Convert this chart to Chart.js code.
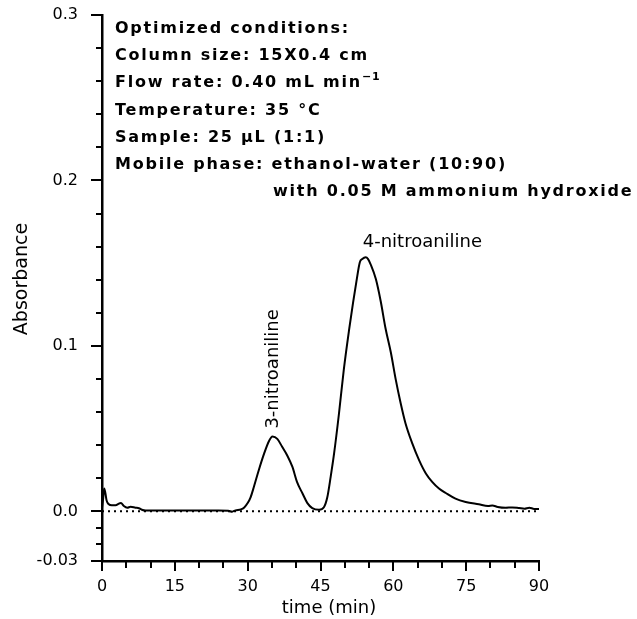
<!doctype html>
<html>

<head>
    <title>Chromatogram</title>
    <script src="https://cdn.jsdelivr.net/npm/chart.js"></script>
    <style>
        body { margin: 0; background: #fff; }
    </style>
</head>

<body>
    <canvas id="cromatograma" width="637" height="619"></canvas>

    <script>
        // tempo (min) e absorbancia
        var tempos = [0, 0.25, 0.45, 0.7, 0.95, 1.4, 2.0, 2.8, 3.5, 3.9, 4.5, 5.2, 5.9, 6.9, 7.6, 8.2, 9, 12, 15, 18, 21, 24, 26,
            26.8, 27.5, 28.6, 29.3, 30.0, 30.6, 31.3, 32.3, 33.4, 34.4, 35.1, 36.1, 37.1, 38.2, 39.2, 40.2, 41.3, 42.3, 43.3,
            44.7, 45.7, 46.4, 47.1, 47.8, 48.8, 49.8, 50.9, 51.7, 52.4, 53.1, 53.6, 54.3, 54.8, 55.3, 56.4, 57.4, 58.4, 59.5,
            60.5, 61.5, 62.5, 63.9, 65.3, 66.7, 68.0, 69.4, 70.8, 72.8, 74.9, 77.6, 79.5, 80.4, 81.5, 83.1, 84.5, 85.9, 87, 88, 89, 90];
        var absorbancia = [0.002, 0.008, 0.0138, 0.011, 0.0065, 0.0043, 0.0037, 0.0037, 0.0047, 0.005, 0.0032, 0.0022, 0.0028, 0.0022, 0.0019, 0.001, 0.0005, 0.0005, 0.0005, 0.0005, 0.0005, 0.0005, 0.0004,
            -0.0002, 0.0006, 0.0012, 0.0024, 0.005, 0.0085, 0.015, 0.025, 0.035, 0.0425, 0.0452, 0.0438, 0.039, 0.0335, 0.027, 0.0175, 0.0108, 0.005, 0.002,
            0.001, 0.0025, 0.0085, 0.021, 0.035, 0.059, 0.0857, 0.110, 0.126, 0.139, 0.1506, 0.1525, 0.1536, 0.1525, 0.1495, 0.1404, 0.127, 0.1105, 0.0959,
            0.0796, 0.0655, 0.0533, 0.0411, 0.031, 0.0229, 0.0178, 0.0138, 0.0111, 0.0077, 0.0057, 0.0043, 0.0033, 0.0036, 0.0027, 0.0022, 0.0024, 0.002, 0.0016, 0.0022, 0.0015, 0.0015];

        var yTicks = [-0.03, -0.02, -0.01, 0, 0.02, 0.04, 0.06, 0.08, 0.1, 0.12, 0.14, 0.16, 0.18, 0.2, 0.22, 0.24, 0.26, 0.28, 0.3];
        var yRotulosValores = [-0.03, 0, 0.1, 0.2, 0.3];
        var yRotulos = ['-0.03', '0.0', '0.1', '0.2', '0.3'];

        var condicoes = [
            'Optimized conditions:',
            'Column size: 15X0.4 cm',
            'Flow rate: 0.40 mL min',
            'Temperature: 35 °C',
            'Sample: 25 μL (1:1)',
            'Mobile phase: ethanol-water (10:90)',
            'with 0.05 M ammonium hydroxide'
        ];

        var pontos = tempos.map((t, i) => ({ x: t, y: absorbancia[i] }));

        var fonte = '"DejaVu Sans", sans-serif';

        var extras = {
            id: 'extras',
            afterDraw(chart) {
                var ctx = chart.ctx;
                var a = chart.chartArea;
                var x = chart.scales.x;
                var y = chart.scales.y;
                ctx.save();
                ctx.strokeStyle = '#000';
                ctx.lineWidth = 2;
                // marcas dos eixos
                y.ticks.forEach(t => {
                    var py = Math.round(y.getPixelForValue(t.value));
                    var len = t.label ? 11 : 6;
                    ctx.beginPath();
                    ctx.moveTo(a.left, py);
                    ctx.lineTo(a.left - len, py);
                    ctx.stroke();
                });
                x.ticks.forEach(t => {
                    var px = Math.round(x.getPixelForValue(t.value));
                    var len = t.label ? 10 : 7;
                    ctx.beginPath();
                    ctx.moveTo(px, a.bottom);
                    ctx.lineTo(px, a.bottom + len);
                    ctx.stroke();
                });

                ctx.fillStyle = '#000';
                // titulos
                ctx.font = '18px ' + fonte;
                ctx.textAlign = 'center';
                ctx.textBaseline = 'alphabetic';
                ctx.fillText('time (min)', 329, 613);
                ctx.save();
                ctx.translate(22, 279);
                ctx.rotate(-Math.PI / 2);
                ctx.textBaseline = 'middle';
                ctx.font = '19px ' + fonte;
                ctx.fillText('Absorbance', 0, 0);
                ctx.restore();

                // picos
                ctx.textAlign = 'left';
                ctx.fillText('4-nitroaniline', x.getPixelForValue(53.7), y.getPixelForValue(0.1536) - 10);
                ctx.save();
                ctx.translate(x.getPixelForValue(35.3), y.getPixelForValue(0.0452) - 8);
                ctx.rotate(-Math.PI / 2);
                ctx.textBaseline = 'middle';
                ctx.fillText('3-nitroaniline', 0, 0);
                ctx.restore();

                // condicoes: espacamento ajustado para a linha mais longa
                ctx.font = 'bold 16px ' + fonte;
                ctx.letterSpacing = '0px';
                var larg = ctx.measureText(condicoes[5]).width;
                var esp = (392 - larg) / condicoes[5].length;
                ctx.letterSpacing = esp + 'px';
                condicoes.forEach((linha, i) => {
                    var by = 33 + i * 27.2;
                    var lx = i == 6 ? 273 : 115;
                    ctx.fillText(linha, lx, by);
                    if (i == 2) {
                        var w = ctx.measureText(linha).width;
                        ctx.font = 'bold 11px ' + fonte;
                        ctx.letterSpacing = '1px';
                        ctx.fillText('−1', lx + w, by - 7);
                        ctx.font = 'bold 16px ' + fonte;
                        ctx.letterSpacing = esp + 'px';
                    }
                });
                ctx.restore();
            }
        };

        var grafico = new Chart(document.getElementById('cromatograma').getContext('2d'), {
            type: 'scatter',
            data: {
                datasets: [{
                    data: pontos,
                    showLine: true,
                    borderColor: '#000',
                    borderWidth: 2,
                    pointRadius: 0,
                    cubicInterpolationMode: 'monotone'
                }, {
                    data: [{ x: 0, y: 0 }, { x: 90, y: 0 }],
                    showLine: true,
                    borderColor: '#000',
                    borderWidth: 2,
                    borderDash: [2, 4],
                    pointRadius: 0
                }]
            },
            options: {
                responsive: false,
                animation: false,
                layout: {
                    padding: { left: 0, top: 15, right: 98, bottom: 0 }
                },
                plugins: {
                    legend: { display: false },
                    tooltip: { enabled: false }
                },
                scales: {
                    x: {
                        type: 'linear',
                        min: 0,
                        max: 90,
                        grid: { display: true, drawOnChartArea: false, drawTicks: true, tickLength: 16, tickColor: 'rgba(0,0,0,0)' },
                        border: { display: true, color: '#000', width: 2.5 },
                        ticks: {
                            stepSize: 5,
                            autoSkip: false,
                            maxRotation: 0,
                            padding: 0,
                            color: '#000',
                            font: { family: 'DejaVu Sans', size: 16 },
                            callback: v => (v % 15 == 0 ? String(v) : '')
                        },
                        afterFit: s => { s.height = 58; }
                    },
                    y: {
                        min: -0.03,
                        max: 0.3,
                        grid: { display: true, drawOnChartArea: false, drawTicks: true, tickLength: 24, tickColor: 'rgba(0,0,0,0)' },
                        border: { display: true, color: '#000', width: 2.5 },
                        afterBuildTicks: s => {
                            s.ticks = yTicks.map(v => ({ value: v }));
                        },
                        ticks: {
                            autoSkip: false,
                            padding: 0,
                            color: '#000',
                            font: { family: 'DejaVu Sans', size: 16 },
                            callback: v => {
                                var i = yRotulosValores.findIndex(r => Math.abs(r - v) < 1e-9);
                                return i >= 0 ? yRotulos[i] : '';
                            }
                        },
                        afterFit: s => { s.width = 102; }
                    }
                }
            },
            plugins: [extras]
        });
    </script>
</body>

</html>
